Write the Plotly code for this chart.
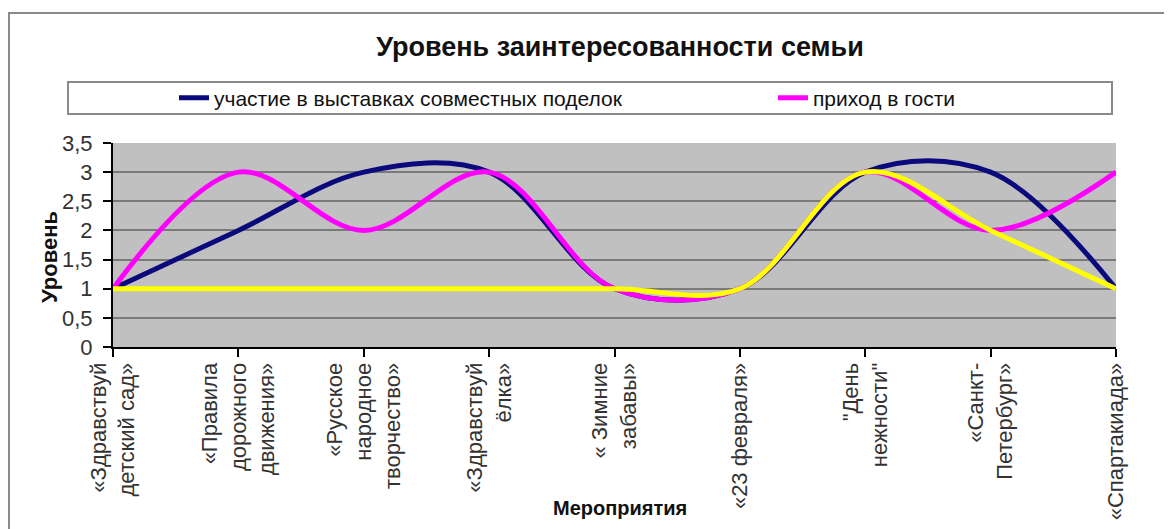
import plotly.graph_objects as go

categories = [
    "«Здравствуй<br>детский сад»",
    "«Правила<br>дорожного<br>движения»",
    "«Русское<br>народное<br>творчество»",
    "«Здравствуй<br>ёлка»",
    "« Зимние<br>забавы»",
    "«23 февраля»",
    "\"День<br>нежности\"",
    "«Санкт-<br>Петербург»",
    "«Спартакиада»",
]
exhibitions = [1, 2, 3, 3, 1, 1, 3, 3, 1]   # участие в выставках совместных поделок
visits = [1, 3, 2, 3, 1, 1, 3, 2, 3]        # приход в гости
third = [1, 1, 1, 1, 1, 1, 3, 2, 1]         # третий ряд (без подписи в легенде)

FONT = "Liberation Sans, Arial, sans-serif"

# page body has an 8px margin; work in reference pixel coordinates
OFF = 8
W, H = 1172 - OFF, 529 - OFF
PL, PR, PT, PB = 113, 1116, 143, 347   # plot area in reference pixels
def px(x):
    return (x - PL) / (PR - PL)
def py(y):
    return (PB - y) / (PB - PT)

fig = go.Figure()
fig.add_trace(go.Scatter(x=categories, y=exhibitions, mode="lines",
                         name="участие в выставках совместных поделок", legend="legend",
                         line=dict(color="#0a0a7c", width=5, shape="spline", smoothing=1)))
fig.add_trace(go.Scatter(x=categories, y=visits, mode="lines",
                         name="приход в гости", legend="legend2",
                         line=dict(color="#ff00ff", width=5, shape="spline", smoothing=1)))
fig.add_trace(go.Scatter(x=categories, y=third, mode="lines",
                         name="", showlegend=False,
                         line=dict(color="#ffff00", width=5, shape="spline", smoothing=1)))

legend_font = dict(size=21, color="#111111", family=FONT)
fig.update_layout(
    template="none",
    width=W, height=H,
    margin=dict(l=PL - OFF, r=W - (PR - OFF), t=PT - OFF, b=H - (PB - OFF), pad=0),
    paper_bgcolor="white",
    plot_bgcolor="#c0c0c0",
    separators=", ",
    font=dict(family=FONT, color="#222222"),
    title=dict(text="<b>Уровень заинтересованности семьи</b>",
               xref="paper", x=px(620), xanchor="center",
               yref="container", y=1 - (47 - OFF) / H, yanchor="middle",
               font=dict(size=27, color="#111111", family=FONT)),
    showlegend=True,
    legend=dict(orientation="h", xanchor="left", yanchor="middle",
                x=px(174), y=py(98),
                bgcolor="rgba(0,0,0,0)", borderwidth=0, font=legend_font),
    legend2=dict(orientation="h", xanchor="left", yanchor="middle",
                 x=px(773), y=py(98),
                 bgcolor="rgba(0,0,0,0)", borderwidth=0, font=legend_font),
    xaxis=dict(type="category", range=[0, 8], showgrid=False, zeroline=False,
               showline=True, linecolor="black", linewidth=2,
               ticks="outside", ticklen=8, tickwidth=2, tickcolor="black",
               tickangle=-90, ticklabelstandoff=-3,
               tickfont=dict(size=22, color="#333333", family=FONT),
               automargin=False),
    yaxis=dict(range=[0, 3.5], dtick=0.5, tick0=0, showgrid=True,
               gridcolor="#7a7a7a", gridwidth=2, zeroline=False,
               showline=True, linecolor="black", linewidth=2,
               ticks="outside", ticklen=8, tickwidth=2, tickcolor="black",
               ticklabelstandoff=6,
               tickfont=dict(size=22, color="#333333", family=FONT),
               automargin=False),
    shapes=[
        # outer chart frame
        dict(type="rect", xref="paper", yref="paper",
             x0=px(9), x1=px(1190), y0=py(560), y1=py(13),
             line=dict(color="#8a8a8a", width=2), fillcolor="rgba(0,0,0,0)", layer="below"),
        # legend frame
        dict(type="rect", xref="paper", yref="paper",
             x0=px(68), x1=px(1112), y0=py(114), y1=py(82),
             line=dict(color="#8a8a8a", width=2), fillcolor="white", layer="below"),
    ],
    annotations=[
        dict(text="<b>Уровень</b>", textangle=-90, xref="paper", yref="paper",
             x=px(49), y=py(257), xanchor="center", yanchor="middle", showarrow=False,
             font=dict(size=22, color="#111111", family=FONT)),
        dict(text="<b>Мероприятия</b>", xref="paper", yref="paper",
             x=px(620), y=py(508), xanchor="center", yanchor="middle", showarrow=False,
             font=dict(size=20, color="#111111", family=FONT)),
    ],
)

fig.write_html("out.html")
